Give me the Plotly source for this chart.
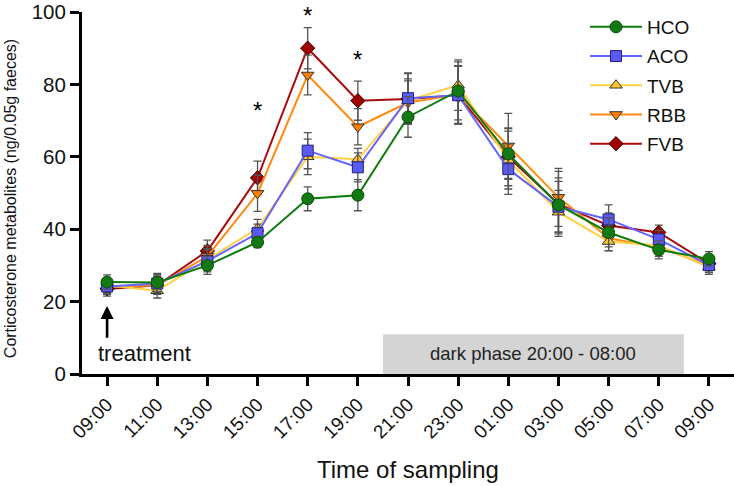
import plotly.graph_objects as go

times = ["09:00", "11:00", "13:00", "15:00", "17:00", "19:00", "21:00",
         "23:00", "01:00", "03:00", "05:00", "07:00", "09:00"]
x_idx = list(range(len(times)))

hco = [25.4, 25.3, 30.0, 36.4, 48.4, 49.4, 71.0, 78.2, 60.8, 46.7, 39.1, 34.3, 31.8]
aco = [24.2, 25.0, 31.2, 38.9, 61.7, 57.1, 76.2, 77.0, 56.6, 46.2, 42.7, 37.2, 30.1]
tvb = [24.5, 23.0, 31.6, 40.2, 60.0, 59.3, 75.5, 79.8, 59.1, 44.7, 36.6, 35.5, 29.5]
rbb = [24.0, 24.5, 32.5, 49.9, 82.6, 68.3, 75.0, 77.2, 63.0, 48.8, 37.5, 35.0, 30.0]
fvb = [23.5, 24.5, 34.0, 54.2, 90.0, 75.5, 76.0, 77.0, 60.0, 47.0, 41.0, 39.1, 30.5]

hco_err = [2.0, 2.5, 2.5, 1.5, 3.3, 4.3, 5.6, 8.0, 7.0, 7.5, 4.0, 2.5, 2.0]
aco_err = [2.0, 2.5, 3.0, 2.5, 5.0, 4.0, 7.0, 8.0, 7.0, 7.0, 4.0, 2.5, 2.0]
tvb_err = [2.0, 2.0, 3.0, 2.5, 4.9, 3.0, 6.0, 7.0, 8.0, 6.0, 2.5, 2.5, 2.0]
rbb_err = [2.0, 2.5, 3.0, 5.0, 5.5, 5.0, 6.0, 8.0, 9.0, 8.0, 3.5, 2.5, 2.0]
fvb_err = [2.0, 2.5, 3.0, 4.6, 5.7, 5.4, 7.0, 8.0, 8.0, 9.0, 3.5, 2.0, 2.0]

# significance markers: x index and top of the text box (axis units)
star_x = [3, 4, 5]
star_top = [77.2, 103.3, 91.2]

series = [
    ("HCO", hco, hco_err, "#0c7a0c", "#137a13", "circle", 12, "#0a4a0a"),
    ("ACO", aco, aco_err, "#6464ff", "#5a5af5", "square", 11, "#20207a"),
    ("TVB", tvb, tvb_err, "#ffd040", "#ffc72c", "triangle-up", 11, "#333333"),
    ("RBB", rbb, rbb_err, "#ff8a10", "#ff8000", "triangle-down", 11, "#333333"),
    ("FVB", fvb, fvb_err, "#a80c0c", "#a00000", "diamond", 11, "#3a0000"),
]

FONT = "Liberation Sans, Arial, sans-serif"
fig = go.Figure()

for rank, (name, vals, errs, lcol, mcol, sym, msize, mline) in reversed(list(enumerate(series))):
    fig.add_trace(go.Scatter(
        x=x_idx, y=vals, name=name, mode="lines+markers",
        legendrank=rank + 1, legendgroup=name,
        line=dict(color=lcol, width=2),
        marker=dict(symbol=sym, size=msize, color=mcol,
                    line=dict(color=mline, width=1)),
        error_y=dict(type="data", array=errs, visible=True,
                     color="#555555", thickness=1.3, width=4),
    ))

# dark phase shading 20:00 - 08:00
fig.add_shape(type="rect", xref="x", yref="y", x0=5.5, x1=11.5, y0=0, y1=11,
              fillcolor="#d4d4d4", line=dict(width=0), layer="below")
fig.add_annotation(x=8.5, y=5.8, xref="x", yref="y", text="dark phase 20:00 - 08:00",
                   showarrow=False, font=dict(size=18.5, color="#222222", family=FONT))
fig.add_annotation(x=-0.23, y=5.8, xref="x", yref="y", text="treatment", xanchor="left",
                   showarrow=False, font=dict(size=22, color="#111111", family=FONT))
fig.add_annotation(x=0, y=18.8, ax=0, ay=9.6, xref="x", yref="y", axref="x", ayref="y",
                   text="", showarrow=True, arrowhead=2, arrowsize=1, arrowwidth=2.6,
                   arrowcolor="#000000")

# significance stars (y in paper units so the top one may sit above the axis range)
for xi, yv in zip(star_x, star_top):
    fig.add_annotation(x=xi, y=yv / 100.0, xref="x", yref="paper", text="*",
                       showarrow=False, yanchor="top",
                       font=dict(size=24, color="#000000", family=FONT))

# axis titles
fig.add_annotation(x=-0.1104, y=0.483, xref="paper", yref="paper", textangle=-90,
                   text="Corticosterone metabolites (ng/0.05g faeces)", showarrow=False,
                   xanchor="center", yanchor="middle",
                   font=dict(size=16, color="#111111", family=FONT))
fig.add_annotation(x=0.5, y=-0.265, xref="paper", yref="paper",
                   text="Time of sampling", showarrow=False,
                   xanchor="center", yanchor="middle",
                   font=dict(size=24, color="#111111", family=FONT))

fig.update_layout(
    width=734, height=486,
    margin=dict(l=82, r=0, t=12, b=112),
    paper_bgcolor="white", plot_bgcolor="white",
    font=dict(family=FONT, color="#111111"),
    showlegend=True,
    legend=dict(x=0.7715, y=1.011, xanchor="left", yanchor="top",
                bgcolor="rgba(0,0,0,0)", font=dict(size=19, family=FONT),
                tracegroupgap=1.5, itemwidth=52),
)
fig.update_xaxes(
    range=[-0.5, 12.5], tickmode="array", tickvals=x_idx, ticktext=times,
    tickangle=-45, tickfont=dict(size=19, family=FONT),
    showline=True, linecolor="#000000", linewidth=3,
    ticks="outside", ticklen=9, tickwidth=3, tickcolor="#000000",
    showgrid=False, zeroline=False,
)
fig.update_yaxes(
    range=[0, 100], tickvals=[0, 20, 40, 60, 80, 100],
    tickfont=dict(size=20.5, family=FONT),
    showline=True, linecolor="#000000", linewidth=3,
    ticks="outside", ticklen=9, tickwidth=3, tickcolor="#000000",
    showgrid=False, zeroline=False,
)

fig.write_html("out.html", config={"displayModeBar": False},
               post_script="document.body.style.margin='0';document.body.style.overflow='hidden';")
